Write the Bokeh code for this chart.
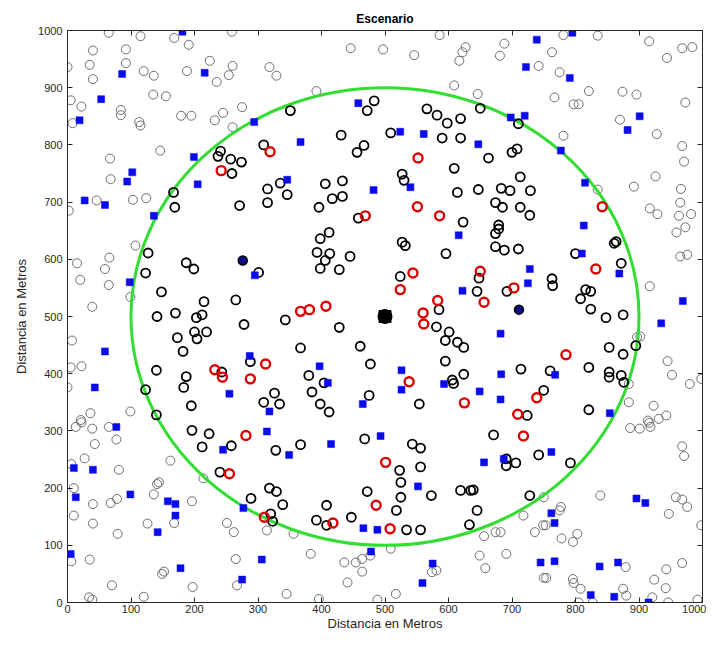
from bokeh.plotting import figure
from bokeh.models import LinearAxis, Range1d, FixedTicker
from bokeh.embed import file_html
from bokeh.resources import INLINE

# ---- data ----
gray_pts = [
 (65,996),(115,990),(168,987),(191,975),(40,965),(92,967),(92,943),(0,936),(35,940),(40,915),
 (120,929),(136,921),(188,929),(224,947),(235,910),(5,878),(22,867),(8,838),(84,861),(84,852),
 (135,888),(155,885),(113,840),(115,834),(179,851),(195,851),(232,843),(245,856),(146,790),(67,776),
 (68,740),(46,703),(103,704),(124,707),(2,685),
 (259,998),(446,969),(497,967),(260,938),(254,922),(318,936),(329,921),(392,894),(275,866),(260,831),
 (586,992),(546,957),(627,971),(622,962),(617,947),(688,977),(681,956),(742,938),(609,904),(646,889),
 (781,992),(835,991),(916,981),(944,952),(968,969),(984,971),(763,962),(775,927),(821,894),(767,883),
 (797,871),(805,871),(874,893),(896,888),(973,874),(870,844),(928,819),(781,816),(968,798),(971,771),
 (926,745),(892,727),(835,722),(966,723),(965,699),(917,689),(929,679),(963,676),(982,679),
 (107,624),(15,593),(66,603),(59,583),(20,564),(65,555),(99,534),(39,517),(7,458),(5,411),
 (22,413),(0,376),(36,331),(99,334),(21,319),
 (959,647),(973,656),(965,605),(976,608),(917,553),(902,465),(945,422),(952,398),(980,382),(998,391),
 (884,382),(884,350),(923,344),(943,327),(931,321),(914,318),(897,464),
 (13,307),(22,315),(39,304),(65,307),(43,277),(77,285),(27,252),(6,242),(81,232),(162,248),
 (10,200),(141,207),(144,210),(136,189),(40,172),(68,174),(78,181),(10,152),(40,138),(79,120),
 (126,138),(168,139),(196,177),(214,217),(6,72),(35,75),(149,50),(152,54),(70,30),(197,27),
 (34,9),(39,5),(120,10),
 (251,139),(262,123),(314,126),(356,120),(265,76),(267,30),(383,85),(436,70),(454,70),(464,76),
 (477,82),(464,54),(441,35),(345,15),(396,6),(488,5),
 (509,94),(656,116),(674,123),(682,123),(718,152),(736,123),(749,135),(649,82),(658,60),(691,85),
 (574,53),(581,56),(517,15),(750,43),
 (886,305),(901,304),(916,314),(918,307),(968,273),(971,256),(839,187),(958,184),(968,180),(976,167),
 (947,155),(998,135),(750,184),(777,167),(775,161),(753,135),(778,112),(796,106),(803,120),(754,43),
 (796,41),(797,34),(808,24),(805,0),(827,0),(879,62),(875,24),(880,12),(924,40),(943,58),
 (942,25),(946,0),(968,69),(992,5),(921,9),
]
black_pts = [
 (241,789),(237,780),(167,717),(169,691),
 (351,860),(483,877),(472,860),(431,817),(467,799),(456,787),(309,800),(257,775),(274,770),(259,750),
 (315,723),(335,733),(346,713),(315,699),(271,694),(406,732),(433,737),(433,710),(417,706),(396,691),(458,672),
 (650,864),(566,863),(582,852),(598,838),(619,846),(509,821),(590,812),(619,812),(710,837),(663,777),
 (700,787),(708,793),(609,759),(527,749),(530,738),(614,717),(647,722),(683,724),(697,720),(729,720),
 (713,744),(674,699),(685,691),(713,691),(728,677),(623,665),(679,660),
 (127,611),(187,594),(199,583),(123,576),(148,543),(215,526),(141,500),(170,506),(203,498),(212,503),
 (219,473),(200,473),(204,461),(173,463),(182,439),(140,406),(187,395),(183,376),(123,372),(195,344),
 (140,328),(243,403),
 (412,647),(398,636),(393,612),(413,610),(406,598),(398,584),(428,582),(445,605),(301,577),(265,529),
 (278,486),(343,494),(428,481),(367,445),(461,448),(477,417),(288,421),(380,397),(404,384),(385,368),
 (326,366),(334,347),(309,350),(398,347),(412,333),(475,362),
 (679,653),(674,645),(527,630),(532,624),(596,610),(674,622),(688,616),(710,618),(524,570),(648,567),
 (645,544),(692,544),(585,512),(581,482),(601,473),(595,458),(614,455),(624,446),(595,422),(624,399),
 (606,389),(608,383),(714,408),(554,347),(724,327),(750,371),
 (864,631),(861,628),(800,610),(872,593),(763,566),(764,554),(816,547),(824,544),(808,531),(824,513),
 (848,498),(875,503),(853,446),(895,449),(875,434),(821,411),(853,403),(853,394),(872,397),(876,385),
 (760,405),(821,337),
 (196,301),(223,295),(212,272),(240,228),
 (258,274),(328,266),(367,276),(468,286),(318,200),(329,194),(289,182),(339,171),(320,155),(323,142),
 (408,170),(392,144),(408,135),(447,149),(472,194),
 (543,277),(556,270),(523,231),(525,210),(556,237),(525,184),(518,161),(534,127),(556,127),(573,187),
 (619,196),(635,196),(639,197),(645,161),(633,136),(671,293),(691,251),(706,244),(691,239),(742,258),
 (728,187),(792,244),
]
red_pts = [
 (242,755),(319,788),(469,676),(552,777),(551,692),(586,676),(842,692),(232,407),(244,394),(367,509),
 (381,512),(407,518),(312,417),(288,391),(544,576),(524,547),(650,579),(656,525),(703,550),(583,528),
 (560,506),(561,487),(538,386),(625,349),(739,358),(709,329),(832,583),(785,433),(281,292),(255,225),
 (310,149),(418,139),(486,170),(501,245),(508,129),(718,291),
]
blue_pts = [
 (181,998),(86,924),(216,926),(53,880),(19,843),(199,779),(102,752),(94,736),(205,731),(27,703),
 (59,695),(136,676),
 (294,840),(367,805),(458,873),(346,739),(482,721),
 (739,984),(722,936),(698,848),(720,851),(524,823),(561,819),(647,801),(540,726),
 (795,996),(791,917),(901,850),(882,826),(777,790),(815,734),(813,659),
 (98,560),(59,439),(43,376),
 (295,572),(287,431),(397,413),(410,384),(255,365),(318,334),(465,347),
 (616,642),(728,583),(725,558),(622,545),(682,470),(526,406),(526,372),(593,382),(649,369),(683,399),(682,355),
 (810,610),(869,575),(969,527),(935,488),(768,398),(854,331),
 (77,307),(10,235),(40,232),(13,184),(99,189),(158,177),(170,172),(170,152),(142,123),(5,85),(178,60),(245,267),
 (314,299),(349,258),(415,277),(493,291),(277,165),(306,75),(275,40),(466,130),(488,127),(478,89),
 (656,245),(687,251),(552,203),(575,68),(559,34),(745,70),
 (762,263),(896,182),(910,174),(762,156),(767,139),(767,72),(838,63),(867,70),(824,13),(861,10),(915,0),
]
navy_pts = [(276,598),(711,512)]
center_x = [500]
center_y = [500]
zone_cx = [500]
zone_cy = [500]
zone_diam = [800]
ticks = [0,100,200,300,400,500,600,700,800,900,1000]

gray_x = [a for a, b in gray_pts]; gray_y = [b for a, b in gray_pts]
black_x = [a for a, b in black_pts]; black_y = [b for a, b in black_pts]
red_x = [a for a, b in red_pts]; red_y = [b for a, b in red_pts]
blue_x = [a for a, b in blue_pts]; blue_y = [b for a, b in blue_pts]
navy_x = [a for a, b in navy_pts]; navy_y = [b for a, b in navy_pts]

AX = "#262626"
FONT = "Liberation Sans"

p = figure(frame_width=635, frame_height=572,
           x_range=Range1d(0, 1000), y_range=Range1d(0, 1000),
           output_backend="svg", toolbar_location=None, title="Escenario",
           min_border_left=67, min_border_right=4, min_border_top=30, min_border_bottom=10)
p.background_fill_color = "white"
p.border_fill_color = "white"
p.grid.visible = False
p.outline_line_color = AX

p.title.align = "center"
p.title.text_font = FONT
p.title.text_font_size = "12px"
p.title.text_font_style = "bold"
p.title.text_color = "#000000"
p.title.standoff = 9

for ax in (p.xaxis[0], p.yaxis[0]):
    ax.ticker = FixedTicker(ticks=ticks)
    ax.major_tick_in = 5
    ax.major_tick_out = 0
    ax.minor_tick_line_color = None
    ax.axis_line_color = AX
    ax.major_tick_line_color = AX
    ax.major_label_text_font = FONT
    ax.major_label_text_font_size = "11px"
    ax.major_label_text_color = AX
    ax.axis_label = "Distancia en Metros"
    ax.axis_label_text_font = FONT
    ax.axis_label_text_font_size = "13px"
    ax.axis_label_text_font_style = "normal"
    ax.axis_label_text_color = AX
p.xaxis.major_label_standoff = 2
p.xaxis.axis_label_standoff = 0
p.yaxis.major_label_standoff = 5
p.yaxis.axis_label_standoff = 6

for loc in ("above", "right"):
    ax = LinearAxis(ticker=FixedTicker(ticks=ticks), major_tick_in=5, major_tick_out=0,
                    minor_tick_line_color=None, axis_line_color=AX, major_tick_line_color=AX,
                    major_label_overrides={t: "" for t in ticks}, major_label_standoff=0)
    p.add_layout(ax, loc)

p.scatter(gray_x, gray_y, marker="circle", size=9, fill_color=None,
          line_color="#6e6e6e", line_width=1)
p.ellipse(x=zone_cx, y=zone_cy, width=zone_diam, height=zone_diam,
          fill_color=None, line_color="#33dd33", line_width=3)
p.scatter(black_x, black_y, marker="circle", size=9, fill_color=None,
          line_color="#000000", line_width=1.8)
p.scatter(red_x, red_y, marker="circle", size=9, fill_color=None,
          line_color="#dd0000", line_width=2.4)
p.scatter(blue_x, blue_y, marker="square", size=7, fill_color="#0a0aee",
          line_color="#0a0aee", line_width=0.5)
p.scatter(navy_x, navy_y, marker="circle", size=9, fill_color="#0b0b8a",
          line_color="#000000", line_width=1.5)
p.scatter(center_x, center_y, marker="square", size=12, fill_color="#000000", line_color="#000000")
p.scatter(center_x, center_y, marker="circle", size=14, fill_color="#000000", line_color="#000000")

open("out.html", "w").write(file_html(p, INLINE))
